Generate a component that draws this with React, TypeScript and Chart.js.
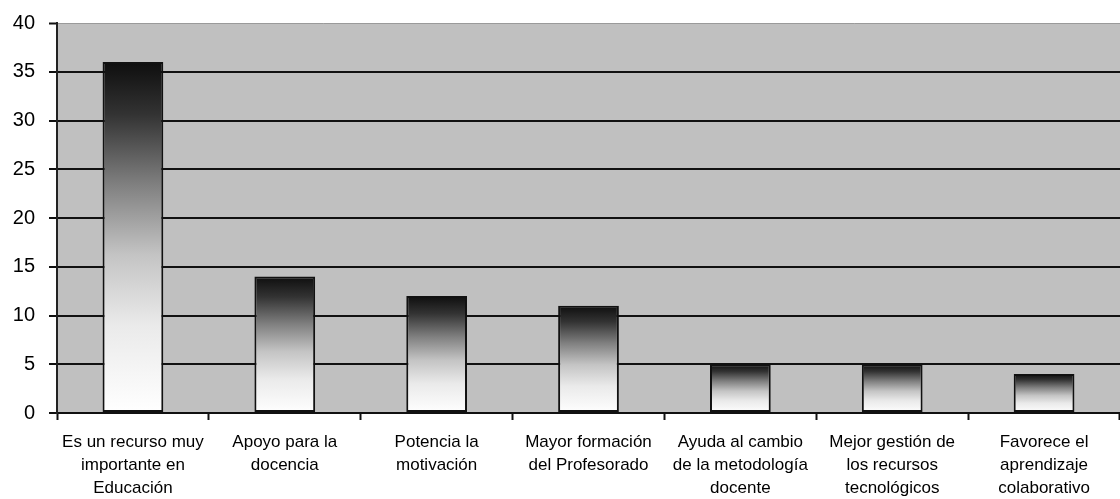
import React, { useEffect, useRef } from "react";
import { Chart, registerables } from "chart.js";

Chart.register(...registerables);

const categories: string[][] = [
  ["Es un recurso muy", "importante en", "Educación"],
  ["Apoyo para la", "docencia"],
  ["Potencia la", "motivación"],
  ["Mayor formación", "del Profesorado"],
  ["Ayuda al cambio", "de la metodología", "docente"],
  ["Mejor gestión de", "los recursos", "tecnológicos"],
  ["Favorece el", "aprendizaje", "colaborativo"],
];

const values: number[] = [36, 14, 12, 11, 5, 5, 4];

const yMin = 0;
const yMax = 40;
const yStep = 5;

const FONT = "'Liberation Sans', Arial, sans-serif";

const plotBg = {
  id: "plotBg",
  beforeDraw(chart: any) {
    const { ctx, chartArea } = chart;
    if (!chartArea) return;
    ctx.save();
    ctx.fillStyle = "#c0c0c0";
    ctx.fillRect(chartArea.left, chartArea.top, chartArea.right - chartArea.left, chartArea.bottom - chartArea.top);
    ctx.restore();
  },
};

export default function App() {
  const ref = useRef<HTMLCanvasElement | null>(null);

  useEffect(() => {
    if (!ref.current) return;
    const chart = new Chart(ref.current, {
      type: "bar",
      data: {
        labels: categories,
        datasets: [
          {
            data: values,
            backgroundColor: (context: any) => {
              const c = context.chart;
              const area = c.chartArea;
              if (!area) return "#888";
              const ys = c.scales.y;
              const v = context.raw as number;
              const top = ys.getPixelForValue(v);
              const base = ys.getPixelForValue(0);
              const g = c.ctx.createLinearGradient(0, top, 0, base);
              g.addColorStop(0, "#0e0e0e");
              g.addColorStop(0.15, "#333333");
              g.addColorStop(0.35, "#808080");
              g.addColorStop(0.55, "#c4c4c4");
              g.addColorStop(0.75, "#eaeaea");
              g.addColorStop(1, "#ffffff");
              return g;
            },
            borderColor: "#111",
            borderWidth: 2,
            borderSkipped: false,
            categoryPercentage: 1,
            barPercentage: 0.4,
          },
        ],
      },
      options: {
        animation: false,
        responsive: true,
        maintainAspectRatio: false,
        layout: { padding: { top: 23, left: 0, right: 0, bottom: 0 } },
        plugins: {
          legend: { display: false },
          tooltip: { enabled: false },
        },
        scales: {
          x: {
            offset: true,
            grid: {
              offset: true,
              drawOnChartArea: false,
              drawTicks: true,
              tickLength: 7,
              tickColor: "#111",
              tickWidth: 2,
            },
            border: { display: true, color: "#111", width: 2 },
            ticks: {
              color: "#000",
              font: { family: FONT, size: 17, lineHeight: 23 / 17 },
              padding: 11,
              maxRotation: 0,
              autoSkip: false,
            },
            afterFit: (scale: any) => {
              scale.height = 86;
            },
          },
          y: {
            min: yMin,
            max: yMax,
            grid: {
              color: (ctx: any) => (ctx.tick && ctx.tick.value === yMax ? "#9a9a9a" : "#111"),
              lineWidth: (ctx: any) => (ctx.tick && ctx.tick.value === yMax ? 1 : 2),
              tickLength: 8,
              tickColor: "#111",
              tickWidth: 2,
            },
            border: { display: true, color: "#222", width: 2 },
            ticks: {
              stepSize: yStep,
              color: "#000",
              font: { family: FONT, size: 20 },
              padding: 14,
            },
            afterFit: (scale: any) => {
              scale.width = 57;
              scale.paddingTop = 12;
              scale.paddingBottom = 12;
            },
          },
        },
      },
      plugins: [plotBg],
    });
    return () => chart.destroy();
  }, []);

  return (
    <div style={{ position: "absolute", left: 0, top: 0, width: 1120, height: 499, background: "#fff" }}>
      <canvas ref={ref} />
    </div>
  );
}
